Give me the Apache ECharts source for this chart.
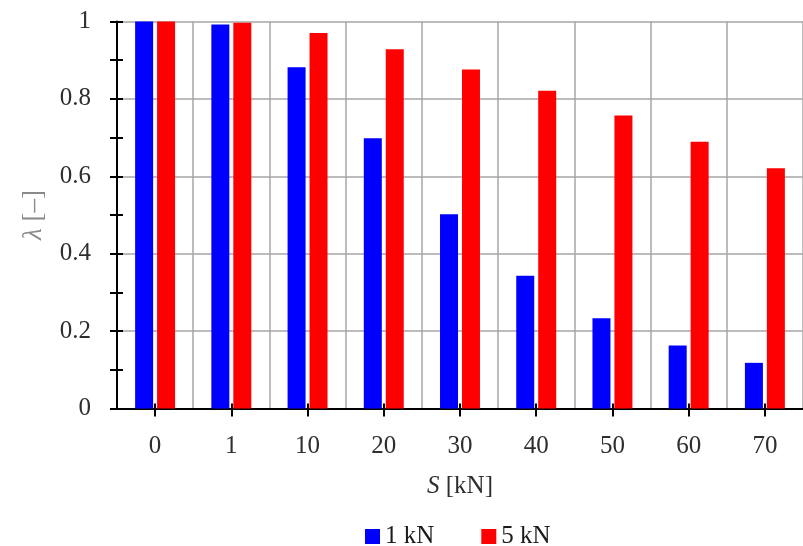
<!DOCTYPE html>
<html>
<head>
<meta charset="utf-8">
<script src="https://cdn.jsdelivr.net/npm/echarts@6/dist/echarts.min.js"></script>
<style>
  html, body { margin: 0; padding: 0; background: #fff; }
  #chart { width: 803px; height: 546px; }
</style>
</head>
<body>
<div id="chart"></div>
<script>
// Load S in kN along the category axis
const categories = ['0', '1', '10', '20', '30', '40', '50', '60', '70'];
// Reduction factor λ for each series
const series1kN = [1.0, 0.992, 0.882, 0.698, 0.502, 0.343, 0.233, 0.163, 0.118];
const series5kN = [1.0, 0.997, 0.970, 0.928, 0.876, 0.821, 0.757, 0.689, 0.621];
const seriesNames = ['1 kN', '5 kN'];

const FONT = 'Liberation Serif';
const TEXT = '#2e2e2e';
const GRIDC = '#a6a6a6';

const chart = echarts.init(document.getElementById('chart'));

const gridBox = { left: 117, right: -7, top: 21.5, bottom: 137.5, containLabel: false };

// helper for the extra tick-only y axes (ticks every 0.1, crossing the axis line)
function tickY(inside, len) {
  return {
    type: 'value', min: 0, max: 1, interval: 0.1, position: 'left',
    axisLine: { show: false },
    axisTick: { show: true, inside: inside, length: len, lineStyle: { color: '#000', width: 2 } },
    axisLabel: { show: false }, splitLine: { show: false }
  };
}

chart.setOption({
  animation: false,
  textStyle: { fontFamily: FONT },
  grid: gridBox,
  legend: {
    data: seriesNames,
    left: 360, top: 519,
    itemWidth: 15, itemHeight: 15, itemGap: 47,
    icon: 'rect',
    textStyle: { fontFamily: FONT, fontSize: 25, color: '#1a1a1a' }
  },
  xAxis: [
    {
      type: 'category', data: categories, position: 'bottom',
      axisLine: { show: true, lineStyle: { color: '#000', width: 2 } },
      axisTick: { show: true, alignWithLabel: true, length: 8, lineStyle: { color: '#000', width: 2 } },
      axisLabel: { fontFamily: FONT, fontSize: 25, color: TEXT, margin: 25 },
      splitLine: { show: true, lineStyle: { color: GRIDC, width: 1.5 } },
      name: '{i|S} [kN]',
      nameLocation: 'middle', nameGap: 65,
      nameTextStyle: {
        fontFamily: FONT, fontSize: 25, color: TEXT,
        rich: { i: { fontFamily: FONT, fontSize: 25, fontStyle: 'italic', color: TEXT } }
      }
    },
    {
      type: 'category', data: categories, position: 'bottom',
      axisLine: { show: false },
      axisTick: { show: true, alignWithLabel: true, inside: true, length: 5, lineStyle: { color: '#000', width: 2 } },
      axisLabel: { show: false }, splitLine: { show: false }
    }
  ],
  yAxis: [
    {
      type: 'value', min: 0, max: 1, interval: 0.2, position: 'left',
      axisLine: { show: true, lineStyle: { color: '#000', width: 2 } },
      axisTick: { show: false },
      axisLabel: { fontFamily: FONT, fontSize: 25, color: TEXT, margin: 26 },
      splitLine: { show: true, lineStyle: { color: GRIDC, width: 1.5 } },
      name: '{i|λ} [–]',
      nameLocation: 'middle', nameGap: 70, nameRotate: 90,
      nameTextStyle: {
        fontFamily: FONT, fontSize: 27, color: '#8a8a8a',
        rich: { i: { fontFamily: FONT, fontSize: 27, fontStyle: 'italic', color: '#8a8a8a' } }
      }
    },
    tickY(false, 7),
    tickY(true, 6)
  ],
  series: [
    {
      name: seriesNames[0], type: 'bar', data: series1kN,
      xAxisIndex: 0, yAxisIndex: 0,
      barWidth: 18, barGap: '22%',
      itemStyle: { color: '#0000ff' }
    },
    {
      name: seriesNames[1], type: 'bar', data: series5kN,
      xAxisIndex: 0, yAxisIndex: 0,
      barWidth: 18, barGap: '22%',
      itemStyle: { color: '#ff0000' }
    }
  ]
});
</script>
</body>
</html>
